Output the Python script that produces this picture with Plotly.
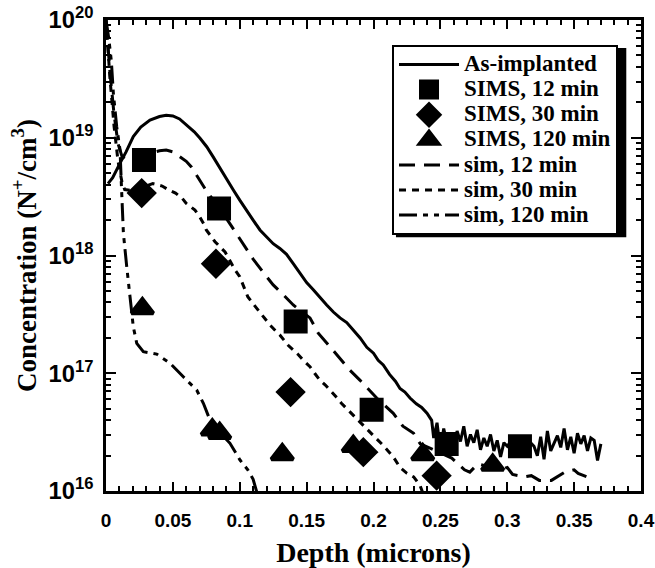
import plotly.graph_objects as go

# ---------------- data (depth in microns, log10 of concentration) ----------------
asimp_x = [0.0015, 0.005, 0.0105, 0.015, 0.0204, 0.026, 0.0329, 0.040, 0.045, 0.050,
           0.055, 0.0603, 0.066, 0.0703, 0.0753, 0.080, 0.0852, 0.0902, 0.0952, 0.100,
           0.105, 0.110, 0.1151, 0.120, 0.125, 0.130, 0.135, 0.140, 0.145, 0.1475,
           0.150, 0.155, 0.160, 0.165, 0.170, 0.175, 0.180, 0.185, 0.190, 0.195,
           0.200, 0.2035, 0.2073, 0.212, 0.2165, 0.2198, 0.2235, 0.2273, 0.232, 0.236,
           0.240, 0.2435,
           0.245, 0.2475, 0.250, 0.2525, 0.255, 0.2575, 0.260, 0.2625, 0.265, 0.2675,
           0.270, 0.2725, 0.275, 0.2775, 0.280, 0.2825, 0.285, 0.2875, 0.290, 0.2925,
           0.295, 0.2975, 0.300, 0.3025, 0.305, 0.3075, 0.310, 0.3125, 0.315, 0.3175,
           0.320, 0.3225, 0.325, 0.3275, 0.330, 0.3325, 0.335, 0.3375, 0.340, 0.3425,
           0.345, 0.3475, 0.350, 0.3525, 0.355, 0.3575, 0.360, 0.3625, 0.365, 0.3675,
           0.370]
asimp_log = [18.61, 18.66, 18.785, 18.88, 19.01, 19.09, 19.15, 19.18, 19.19, 19.185,
             19.16, 19.11, 19.05, 18.995, 18.924, 18.84, 18.74, 18.65, 18.556, 18.47,
             18.39, 18.30, 18.217, 18.16, 18.10, 18.06, 18.01, 17.93, 17.85, 17.80,
             17.77, 17.71, 17.64, 17.58, 17.52, 17.47, 17.43, 17.36, 17.30, 17.22,
             17.17, 17.11, 17.07, 16.99, 16.93, 16.87, 16.84, 16.79, 16.74, 16.71,
             16.66, 16.60,
             16.45, 16.58, 16.35, 16.53, 16.40, 16.47, 16.32, 16.51, 16.42, 16.55,
             16.38, 16.48, 16.41, 16.52, 16.35, 16.45, 16.38, 16.48, 16.34, 16.43,
             16.29, 16.41, 16.38, 16.42, 16.37, 16.44, 16.39, 16.43, 16.36, 16.41,
             16.38, 16.30, 16.46, 16.27, 16.51, 16.34, 16.41, 16.47, 16.37, 16.53,
             16.35, 16.46, 16.32, 16.49, 16.40, 16.47, 16.34, 16.45, 16.43, 16.26,
             16.40]

sims12_x = [0.0284, 0.0845, 0.1418, 0.1986, 0.2547, 0.3095]
sims12_log = [18.81, 18.40, 17.44, 16.69, 16.40, 16.38]

sims30_x = [0.0267, 0.0822, 0.1380, 0.1924, 0.2472]
sims30_log = [18.53, 17.93, 16.84, 16.33, 16.13]

sims120_x = [0.0272, 0.0795, 0.0850, 0.1318, 0.1849, 0.2368, 0.2891]
sims120_log = [17.55, 16.52, 16.49, 16.31, 16.38, 16.31, 16.22]

sim12_x = [0.0, 0.003, 0.006, 0.009, 0.012, 0.016, 0.022, 0.030, 0.040, 0.045,
           0.050, 0.055, 0.060, 0.064, 0.070, 0.0755, 0.0845, 0.094, 0.098, 0.104,
           0.110, 0.118, 0.125, 0.134, 0.140, 0.1525, 0.1587, 0.1675, 0.175, 0.182,
           0.190, 0.1986, 0.2024, 0.2148, 0.222, 0.230, 0.235, 0.245, 0.2585, 0.268,
           0.272, 0.278, 0.288, 0.295, 0.300, 0.304, 0.313, 0.318, 0.324, 0.333,
           0.343, 0.350, 0.353, 0.362]
sim12_log = [20.0, 19.55, 19.2, 18.95, 18.84, 18.81, 18.82, 18.86, 18.89, 18.895,
             18.88, 18.84, 18.80, 18.75, 18.64, 18.54, 18.41, 18.245, 18.17, 18.07,
             17.97, 17.85, 17.75, 17.65, 17.58, 17.47, 17.34, 17.225, 17.127, 17.03,
             16.94, 16.83, 16.79, 16.66, 16.55, 16.49, 16.40, 16.35, 16.28, 16.18,
             16.16, 16.23, 16.20, 16.18, 16.20, 16.14, 16.12, 16.13, 16.09, 16.09,
             16.16, 16.18, 16.15, 16.11]

sim30_x = [0.0, 0.003, 0.006, 0.009, 0.012, 0.014, 0.020, 0.027, 0.035, 0.042,
           0.047, 0.052, 0.057, 0.060, 0.0665, 0.070, 0.073, 0.075, 0.079, 0.0815,
           0.089, 0.091, 0.0965, 0.100, 0.104, 0.106, 0.110, 0.1176, 0.1226, 0.126,
           0.130, 0.136, 0.139, 0.144, 0.1475, 0.1525, 0.156, 0.160, 0.164, 0.169,
           0.172, 0.176, 0.180, 0.185, 0.189, 0.1936, 0.1974, 0.2024, 0.207, 0.2148,
           0.2198, 0.225, 0.230, 0.232, 0.235, 0.238]
sim30_log = [20.0, 19.5, 19.1, 18.8, 18.62, 18.56, 18.55, 18.58, 18.61, 18.59,
             18.556, 18.53, 18.486, 18.443, 18.386, 18.33, 18.27, 18.217, 18.16, 18.117,
             18.03, 17.99, 17.877, 17.82, 17.71, 17.65, 17.59, 17.48, 17.41, 17.37,
             17.325, 17.24, 17.21, 17.155, 17.11, 17.056, 17.0, 16.94, 16.9, 16.84,
             16.8, 16.745, 16.70, 16.645, 16.60, 16.546, 16.50, 16.45, 16.39, 16.29,
             16.2, 16.15, 16.12, 16.09, 16.04, 15.95]

sim120_x = [0.0, 0.002, 0.004, 0.0055, 0.008, 0.0105, 0.0115, 0.012, 0.013, 0.0155,
            0.018, 0.0204, 0.023, 0.0279, 0.0379, 0.0479, 0.0578, 0.0678, 0.0728, 0.0778,
            0.085, 0.0927, 0.1002, 0.106, 0.110, 0.1127, 0.115]
sim120_log = [20.0, 19.85, 19.65, 19.377, 19.094, 18.896, 18.6, 18.47, 18.19, 17.905,
              17.62, 17.395, 17.254, 17.183, 17.163, 17.085, 16.97, 16.858, 16.745, 16.60,
              16.50, 16.405, 16.263, 16.18, 16.10, 16.0, 15.9]

legend_names = ["As-implanted", "SIMS, 12 min", "SIMS, 30 min", "SIMS, 120 min",
                "sim, 12 min", "sim, 30 min", "sim, 120 min"]


def conc(vals):
    return [10 ** v for v in vals]


def lname(s):
    return '<span style="font-size:23px">' + s + '</span>'


fig = go.Figure()
LW = 3
MK = dict(color="black", line=dict(color="black", width=4))
fig.add_trace(go.Scatter(x=asimp_x, y=conc(asimp_log), mode="lines", name=lname(legend_names[0]),
                         line=dict(color="black", width=LW)))
fig.add_trace(go.Scatter(x=sims12_x, y=conc(sims12_log), mode="markers", name=lname(legend_names[1]),
                         marker=dict(symbol="square", size=20, **MK)))
fig.add_trace(go.Scatter(x=sims30_x, y=conc(sims30_log), mode="markers", name=lname(legend_names[2]),
                         marker=dict(symbol="diamond", size=19, **MK)))
fig.add_trace(go.Scatter(x=sims120_x, y=conc(sims120_log), mode="markers", name=lname(legend_names[3]),
                         marker=dict(symbol="triangle-up", size=19, **MK)))
fig.add_trace(go.Scatter(x=sim12_x, y=conc(sim12_log), mode="lines", name=lname(legend_names[4]),
                         line=dict(color="black", width=LW, dash="16px,9px")))
fig.add_trace(go.Scatter(x=sim30_x, y=conc(sim30_log), mode="lines", name=lname(legend_names[5]),
                         line=dict(color="black", width=LW, dash="7px,6px")))
fig.add_trace(go.Scatter(x=sim120_x, y=conc(sim120_log), mode="lines", name=lname(legend_names[6]),
                         line=dict(color="black", width=LW, dash="18px,6px,5px,6px,5px,6px")))

serif = "Liberation Serif"
sans = "Liberation Sans"

fig.update_layout(
    width=655, height=568,
    margin=dict(l=106, r=14, t=20, b=77, autoexpand=False),
    paper_bgcolor="white", plot_bgcolor="white",
    showlegend=True,
    legend=dict(x=0.5346, y=0.947, xanchor="left", yanchor="top",
                bgcolor="white", bordercolor="black", borderwidth=2,
                font=dict(family=serif, size=17, color="black", weight="bold"),
                itemwidth=60, tracegroupgap=0),
    shapes=[dict(type="rect", xref="paper", yref="paper",
                 x0=0.542, x1=0.9725, y0=0.539, y1=0.9406,
                 fillcolor="black", line=dict(width=0), layer="above")],
)

fig.update_xaxes(
    range=[0, 0.4], tickvals=[0, 0.05, 0.1, 0.15, 0.2, 0.25, 0.3, 0.35, 0.4],
    ticktext=["0", "0.05", "0.1", "0.15", "0.2", "0.25", "0.3", "0.35", "0.4"],
    ticks="inside", ticklen=9, tickwidth=2, tickcolor="black",
    minor=dict(dtick=0.01, ticks="inside", ticklen=5, tickwidth=1.5, tickcolor="black", showgrid=False),
    showline=True, linecolor="black", linewidth=2.5, mirror="allticks",
    showgrid=False, zeroline=False, automargin=False,
    tickfont=dict(family=sans, size=19, color="black", weight="bold"),
    ticklabelstandoff=10,
    title=dict(text="Depth (microns)", standoff=20,
               font=dict(family=serif, size=28, color="black", weight="bold")),
)
fig.update_yaxes(
    type="log", range=[16, 20], dtick=1, exponentformat="power",
    ticks="inside", ticklen=10, tickwidth=2, tickcolor="black",
    minor=dict(dtick="D1", ticks="inside", ticklen=5, tickwidth=1.5, tickcolor="black", showgrid=False),
    showline=True, linecolor="black", linewidth=2.5, mirror="allticks",
    showgrid=False, zeroline=False, automargin=False,
    tickfont=dict(family=sans, size=19, color="black", weight="bold"),
    ticklabelstandoff=6,
    title=dict(text="Concentration (N<sup>+</sup>/cm<sup>3</sup>)", standoff=5,
               font=dict(family=serif, size=27, color="black", weight="bold")),
)

fig.write_html("out.html", config={"displayModeBar": False},
               post_script="document.body.style.margin='0px';document.body.style.padding='0px';")
